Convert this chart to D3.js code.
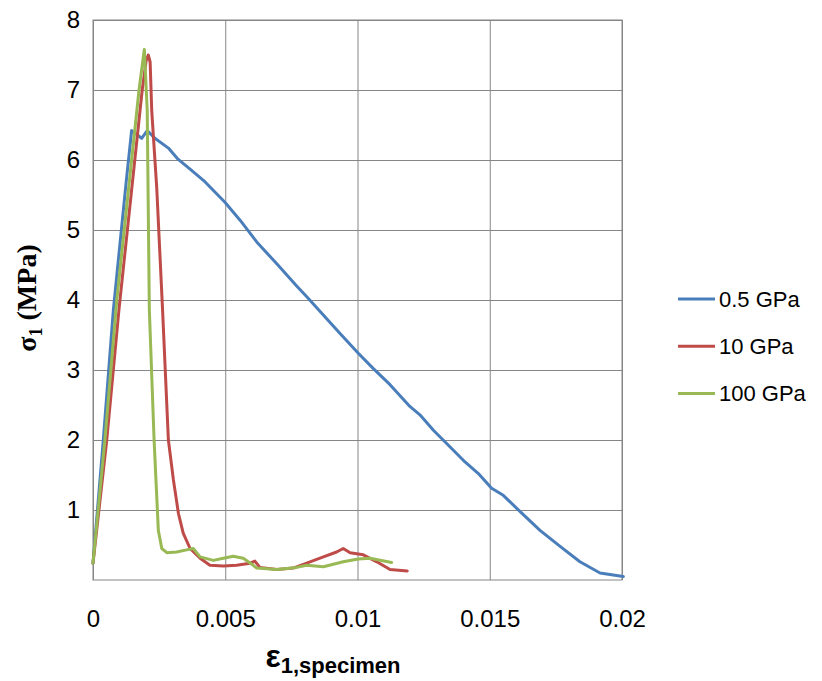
<!DOCTYPE html>
<html>
<head>
<meta charset="utf-8">
<script src="https://cdn.jsdelivr.net/npm/d3@7"></script>
<style>
  body { margin: 0; background: #fff; }
  svg { display: block; }
  .tick text { font-family: "Liberation Sans", Arial, sans-serif; font-size: 24px; fill: #000; }
</style>
</head>
<body>
<svg id="chart" width="822" height="681"></svg>
<script>
// values (strain, stress in MPa)
const strain05 = [0, 0.00039, 0.00077, 0.00125, 0.00146, 0.00184, 0.00205, 0.00234, 0.00285, 0.00319,
  0.00367, 0.00423, 0.00498, 0.00556, 0.00619, 0.00694, 0.0077, 0.0081, 0.00934, 0.01003, 0.0106,
  0.01123, 0.01198, 0.01236, 0.01287, 0.01337, 0.014, 0.01457, 0.01507, 0.01551, 0.01614, 0.0169,
  0.01766, 0.01841, 0.01917, 0.01992, 0.02005];
const stress05 = [0.24, 2.0, 3.86, 5.67, 6.42, 6.31, 6.42, 6.31, 6.17, 6.02,
  5.87, 5.69, 5.40, 5.14, 4.83, 4.52, 4.20, 4.04, 3.52, 3.24, 3.02,
  2.79, 2.48, 2.36, 2.14, 1.95, 1.71, 1.52, 1.31, 1.21, 0.98, 0.71,
  0.48, 0.26, 0.10, 0.057, 0.05];

const strain10 = [0, 0.00052, 0.00098, 0.00186, 0.00201, 0.00209, 0.00216, 0.00222, 0.00241, 0.00263,
  0.00285, 0.00304, 0.00323, 0.00341, 0.00367, 0.00405, 0.00442, 0.00493, 0.00543, 0.00594,
  0.00612, 0.00631, 0.00695, 0.00757, 0.00808, 0.00871, 0.00921, 0.00946, 0.00972, 0.01022,
  0.01073, 0.01123, 0.01188];
const stress10 = [0.24, 2.0, 3.86, 7.0, 7.42, 7.5, 7.4, 6.71, 5.6, 3.86,
  2.0, 1.43, 0.95, 0.67, 0.45, 0.31, 0.21, 0.2, 0.21, 0.24,
  0.27, 0.18, 0.15, 0.17, 0.24, 0.33, 0.40, 0.45, 0.39, 0.36,
  0.26, 0.15, 0.13];

const strain100 = [0, 0.00045, 0.0009, 0.00174, 0.00194, 0.00205, 0.00213, 0.00231, 0.00238, 0.00247,
  0.0026, 0.00279, 0.00316, 0.00354, 0.00379, 0.00405, 0.00455, 0.00493, 0.0053, 0.00568,
  0.00606, 0.00619, 0.00695, 0.0077, 0.00808, 0.00871, 0.00946, 0.01003, 0.01047, 0.01129];
const stress100 = [0.24, 2.0, 4.0, 7.0, 7.58, 6.71, 3.86, 2.0, 1.43, 0.71,
  0.45, 0.39, 0.40, 0.43, 0.45, 0.33, 0.28, 0.31, 0.34, 0.31,
  0.21, 0.17, 0.15, 0.18, 0.21, 0.19, 0.26, 0.30, 0.31, 0.25];

const seriesNames = ["0.5 GPa", "10 GPa", "100 GPa"];
const seriesColors = ["#4a7ebb", "#be4b48", "#98b954"];
const xTicks = [0, 0.005, 0.01, 0.015, 0.02];
const xTickLabels = ["0", "0.005", "0.01", "0.015", "0.02"];
const yTicks = [1, 2, 3, 4, 5, 6, 7, 8];

const series = [
  strain05.map((e, i) => [e, stress05[i]]),
  strain10.map((e, i) => [e, stress10[i]]),
  strain100.map((e, i) => [e, stress100[i]]),
];

const svg = d3.select("#chart");
const x = d3.scaleLinear().domain([0, 0.02]).range([93, 622]);
const y = d3.scaleLinear().domain([0, 8]).range([580, 20]);
const grid = "#868686";

// horizontal grid + y labels
const yAxis = svg.append("g").attr("transform", "translate(93,0)")
  .call(d3.axisLeft(y).tickValues(yTicks).tickSize(-(622 - 93)).tickPadding(13).tickFormat(d3.format("d")));
yAxis.select(".domain").remove();
yAxis.selectAll(".tick line").attr("stroke", grid);

// vertical grid + x labels
const xAxis = svg.append("g").attr("transform", "translate(0,580)")
  .call(d3.axisBottom(x).tickValues(xTicks).tickSize(-(580 - 20)).tickPadding(30)
    .tickFormat((d, i) => xTickLabels[i]));
xAxis.select(".domain").remove();
xAxis.selectAll(".tick line").attr("stroke", grid);

// plot frame
svg.append("rect").attr("x", x(0)).attr("y", y(8))
  .attr("width", x(0.02) - x(0)).attr("height", y(0) - y(8))
  .attr("fill", "none").attr("stroke", grid);

const line = d3.line().x(d => x(d[0])).y(d => y(d[1]));
svg.append("g").selectAll("path").data(series).join("path")
  .attr("d", line)
  .attr("fill", "none")
  .attr("stroke", (d, i) => seriesColors[i])
  .attr("stroke-width", 3)
  .attr("stroke-linejoin", "round")
  .attr("stroke-linecap", "round");

// legend
const legend = svg.append("g").selectAll("g").data(seriesNames).join("g")
  .attr("transform", (d, i) => `translate(678,${299 + i * 47.3})`);
legend.append("line").attr("x1", 0).attr("x2", 37)
  .attr("stroke", (d, i) => seriesColors[i]).attr("stroke-width", 3);
legend.append("text").attr("x", 41).attr("dy", "0.35em")
  .style("font-family", "'Liberation Sans', Arial, sans-serif").style("font-size", "22px")
  .text(d => d);

// y title
const yTitle = svg.append("text")
  .attr("transform", "translate(36,298) rotate(-90)")
  .attr("text-anchor", "middle")
  .style("font-family", "'Liberation Serif', 'Times New Roman', serif")
  .style("font-size", "28px").style("font-weight", "bold");
yTitle.append("tspan").text("σ");
yTitle.append("tspan").attr("dy", 6).style("font-size", "18px").text("1");
yTitle.append("tspan").attr("dy", -6).text(" (MPa)");

// x title
const xTitle = svg.append("text")
  .attr("x", 333).attr("y", 667)
  .attr("text-anchor", "middle")
  .style("font-family", "'Liberation Sans', Arial, sans-serif").style("font-weight", "bold");
xTitle.append("tspan").style("font-size", "32px").text("ε");
xTitle.append("tspan").attr("dy", 6).style("font-size", "22px").text("1,specimen");
</script>
</body>
</html>
